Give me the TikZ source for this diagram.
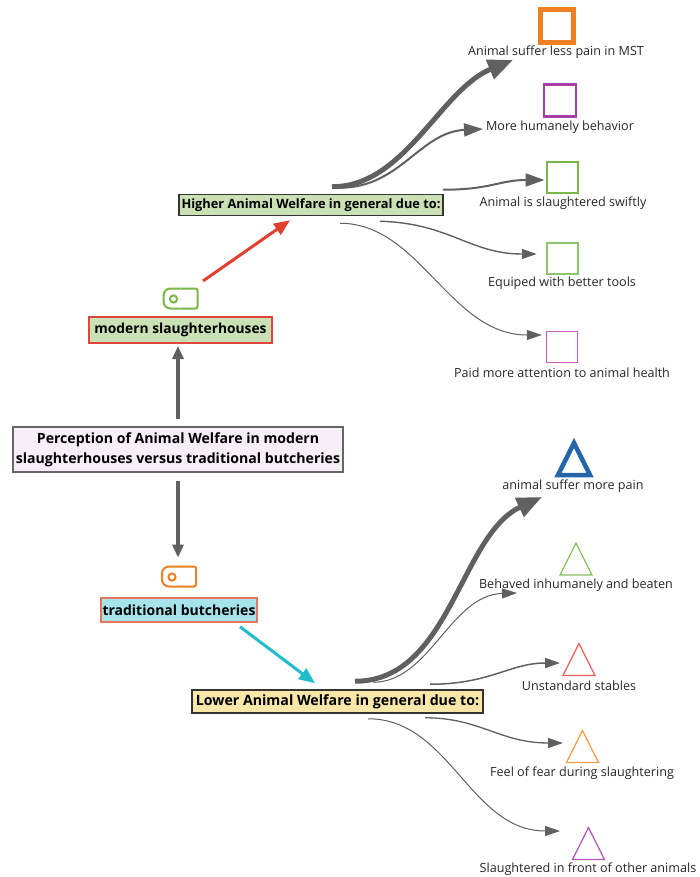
\documentclass[tikz,border=0pt]{standalone}
\usepackage{fontspec}
\setmainfont{Open Sans}
\usetikzlibrary{arrows.meta,calc}

\definecolor{linkgray}{HTML}{606060}
\definecolor{boxgreen}{HTML}{C9E1B4}
\definecolor{boxlav}{HTML}{F6EFF8}
\definecolor{boxcyan}{HTML}{A6E3EA}
\definecolor{boxyellow}{HTML}{F8E7A8}
\definecolor{edgered}{HTML}{E0463A}
\definecolor{edgesalmon}{HTML}{E8735F}
\definecolor{arrowred}{HTML}{E23F2E}
\definecolor{arrowcyan}{HTML}{1FBDCC}
\definecolor{iconorange}{HTML}{EE7F22}
\definecolor{iconpurple}{HTML}{A63FAA}
\definecolor{icongreen}{HTML}{7AB648}
\definecolor{iconlgreen}{HTML}{8DC56B}
\definecolor{iconlpurple}{HTML}{C25EC6}
\definecolor{iconblue}{HTML}{2465A8}
\definecolor{trigreen}{HTML}{86BE5C}
\definecolor{trired}{HTML}{E8605A}
\definecolor{triorange}{HTML}{F39C4A}
\definecolor{tripurple}{HTML}{B455B8}

\tikzset{
  topic/.style={draw, inner sep=0pt, align=center, text=black},
  itemlabel/.style={inner sep=0pt, text=black!85, font=\fontsize{12.6}{15}\selectfont},
  sqicon/.style={draw, fill=white, inner sep=0pt, minimum size=#1},
  link/.style={draw=linkgray, line width=1pt, -{Triangle[length=15pt,width=10pt]}},
  linkmid/.style={draw=linkgray, line width=2pt, -{Triangle[length=19pt,width=13pt]}},
  linkthick/.style={draw=linkgray, line width=5pt, -{Triangle[length=25pt,width=20pt]}},
  vlink/.style={draw=linkgray, line width=3.2pt, -{Triangle[length=13pt,width=11pt]}},
  triangleicon/.pic={\draw[pic actions] (-16,16) -- (0,-16) -- (16,16) -- cycle;},
  tagicon/.pic={
    \draw[pic actions, rounded corners=7pt] (0,-10) -- (-17,-10) -- (-17,10) -- (0,10);
    \draw[pic actions, rounded corners=2pt] (0,-10) -- (17,-10) -- (17,10) -- (0,10);
    \draw[pic actions] (-7,0.5) circle (3.6pt);
  }
}

\begin{document}
\begin{tikzpicture}[x=1pt,y=-1pt]
\useasboundingbox (0,0) rectangle (699,877);

% ---------- central topic and the two branches ----------
\node[topic, draw=black!60, line width=1.2pt, fill=boxlav,
      minimum width=330pt, minimum height=45pt,
      font=\bfseries\fontsize{14.1}{20}\selectfont] (per) at (178,449.5)
  {Perception of Animal Welfare in modern\\slaughterhouses versus traditional butcheries};

\node[topic, draw=edgered, line width=2pt, fill=boxgreen,
      minimum width=183pt, minimum height=26pt,
      font=\bfseries\fontsize{13.8}{16}\selectfont] (mod) at (180.5,330)
  {modern slaughterhouses};

\node[topic, draw=edgesalmon, line width=1.5pt, fill=boxcyan,
      minimum width=156pt, minimum height=24pt,
      font=\bfseries\fontsize{14}{16}\selectfont] (trad) at (179,610)
  {traditional butcheries};

\node[topic, draw=black!80, line width=1.5pt, fill=boxgreen,
      minimum width=264pt, minimum height=21pt,
      font=\bfseries\fontsize{12.8}{15}\selectfont] (hi) at (311,205)
  {Higher Animal Welfare in general due to:};

\node[topic, draw=black!80, line width=1.5pt, fill=boxyellow,
      minimum width=291pt, minimum height=23pt,
      font=\bfseries\fontsize{14.2}{16}\selectfont] (lo) at (337.5,701.5)
  {Lower Animal Welfare in general due to:};

% tag icons above the branch boxes
\pic[draw=icongreen, line width=2pt] at (180.5,298.5) {tagicon};
\pic[draw=iconorange, line width=2pt] at (179,576.5) {tagicon};

% ---------- straight connectors ----------
\draw[vlink] ($(per.north)+(0,-7)$) -- ($(per.north |- mod.south)+(0,2)$);
\draw[vlink] ($(per.south)+(0,8)$) -- ($(per.south)+(0,85)$);
\draw[draw=arrowred, line width=3pt, -{Triangle[length=16pt,width=13pt]}]
  ($(mod.north)+(22.5,-35)$) -- ($(hi.south)+(-21,4)$);
\draw[draw=arrowcyan, line width=3pt, -{Triangle[length=16pt,width=13pt]}]
  ($(trad.south)+(61,4)$) -- ($(lo.north)+(-22.5,-6)$);

% ---------- reasons for higher welfare ----------
\node[sqicon=33pt, draw=iconorange, line width=4.5pt] (sq1) at (557,26) {};
\node[sqicon=32pt, draw=iconpurple, line width=2.5pt] (sq2) at (560,100.5) {};
\node[sqicon=31pt, draw=icongreen, line width=2pt] (sq3) at (562.5,177.5) {};
\node[sqicon=31pt, draw=iconlgreen, line width=1.5pt] (sq4) at (562.5,258.5) {};
\node[sqicon=31pt, draw=iconlpurple, line width=1.3pt] (sq5) at (562,347) {};

\node[itemlabel] (h1) at (556,52) {Animal suffer less pain in MST};
\node[itemlabel] (h2) at (560,127) {More humanely behavior};
\node[itemlabel] (h3) at (563,203) {Animal is slaughtered swiftly};
\node[itemlabel] (h4) at (562,283.5) {Equiped with better tools};
\node[itemlabel] (h5) at (562,373) {Paid more attention to animal health};

\draw[linkthick] ($(hi.north)+(21,-7)$) .. controls +(73,0) and +(-73,30) .. ($(sq1)+(-44,34)$);
\draw[linkmid] ($(hi.north)+(29,-6)$) .. controls +(60,0) and +(-63,3) .. ($(sq2)+(-77,28.5)$);
\draw[linkmid] ($(hi.north east)+(-1,-4)$) .. controls +(48,0) and +(-45,0) .. ($(sq3.west)+(-1.5,2.5)$);
\draw[link, line width=1.4pt] ($(hi.south)+(69,5)$) .. controls +(70,2) and +(-67,0) .. ($(sq4.west)+(-9.5,-4.5)$);
\draw[link] ($(hi.south)+(29,7)$) .. controls +(80,0) and +(-92,0) .. ($(sq5.west)+(-4,-12)$);

% ---------- reasons for lower welfare ----------
\pic[draw=iconblue, line width=4.5pt, line join=miter] at (574,459) {triangleicon};
\pic[draw=trigreen, line width=1.3pt] at (576,559) {triangleicon};
\pic[draw=trired, line width=1.3pt] at (579,659.5) {triangleicon};
\pic[draw=triorange, line width=1.3pt] at (582.5,746.5) {triangleicon};
\pic[draw=tripurple, line width=1.3pt] at (588.5,843.5) {triangleicon};
\coordinate (tr1) at (574,459);
\coordinate (tr2) at (576,559);
\coordinate (tr3) at (579,659.5);
\coordinate (tr4) at (582.5,746.5);
\coordinate (tr5) at (588.5,843.5);

\node[itemlabel] (l1) at (573,486) {animal suffer more pain};
\node[itemlabel] (l2) at (576,585) {Behaved inhumanely and beaten};
\node[itemlabel] (l3) at (579,686) {Unstandard stables};
\node[itemlabel] (l4) at (582,773) {Feel of fear during slaughtering};
\node[itemlabel] (l5) at (588,869) {Slaughtered in front of other animals};

\draw[linkthick] ($(lo.north)+(17.5,-8)$) .. controls +(95,0) and +(-82,38) .. ($(tr1)+(-32,38)$);
\draw[link] ($(lo.north)+(35.5,-7)$) .. controls +(57,0) and +(-67,2) .. ($(tr2)+(-59,34)$);
\draw[link, line width=1.5pt] ($(lo.north)+(92.5,-5)$) .. controls +(60,0) and +(-50,0) .. ($(tr3)+(-19,3.5)$);
\draw[link, line width=1.3pt] ($(lo.south)+(87.5,4)$) .. controls +(55,0) and +(-63,0) .. ($(tr4)+(-19.5,-3.5)$);
\draw[link] ($(lo.south)+(30.5,5)$) .. controls +(82,0) and +(-90,0) .. ($(tr5)+(-28.5,-12.5)$);
\end{tikzpicture}
\end{document}
